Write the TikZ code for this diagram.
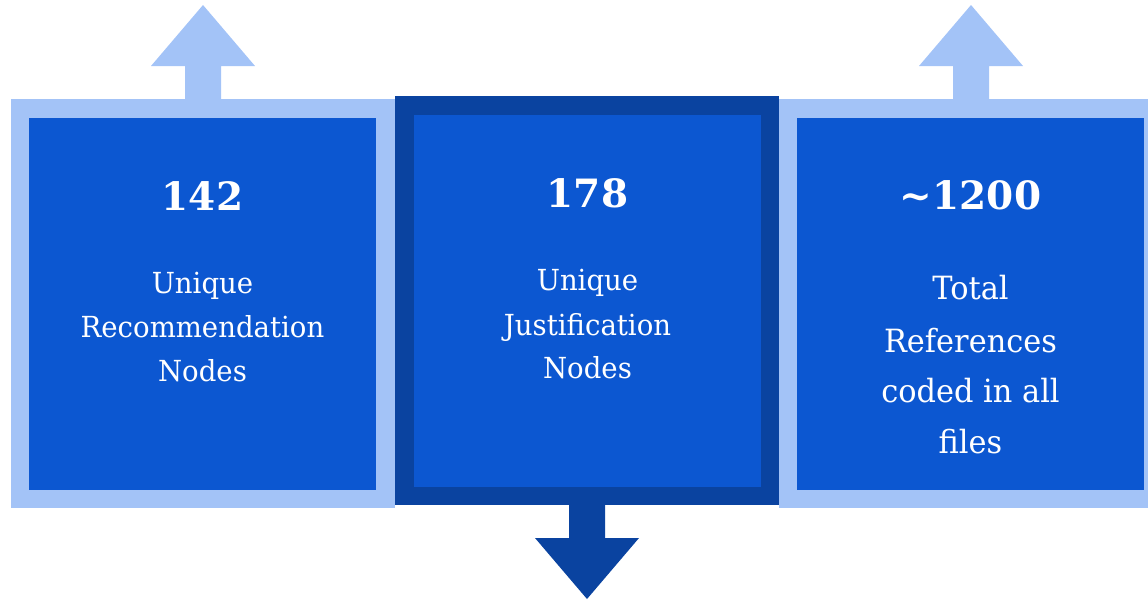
\documentclass[tikz,border=0pt]{standalone}
\usepackage{fontspec}
\setmainfont{DejaVu Serif}
\newfontfamily\bodyfont[FakeStretch=0.95]{DejaVu Serif}
\definecolor{lightb}{HTML}{A3C3F7}
\definecolor{midb}{HTML}{0C57D1}
\definecolor{navyb}{HTML}{0A43A0}
\tikzset{
  boxnode/.style={inner sep=0pt, outer sep=0pt, anchor=north west},
  numtext/.style={text=white, anchor=base, inner sep=0pt, font={\bfseries\fontsize{39}{44}\selectfont}},
  smalltext/.style={text=white, anchor=base, inner sep=0pt, font={\bodyfont\fontsize{29}{44}\selectfont}},
  bigtext/.style={text=white, anchor=base, inner sep=0pt, font={\bodyfont\fontsize{32}{52}\selectfont}},
}
\begin{document}
\begin{tikzpicture}[x=1pt,y=-1pt]
\useasboundingbox (0,0) rectangle (1148,600);
% arrows
\fill[lightb] (185,100) -- (185,66) -- (151,66) -- (203,5) -- (255,66) -- (221,66) -- (221,100) -- cycle;
\fill[lightb] (953,100) -- (953,66) -- (919,66) -- (971,5) -- (1023,66) -- (989,66) -- (989,100) -- cycle;
\fill[navyb] (569,504) -- (569,538) -- (535,538) -- (587,599) -- (639,538) -- (605,538) -- (605,504) -- cycle;
% boxes
\node[boxnode, fill=lightb, minimum width=384pt, minimum height=409pt] (Lo) at (11,99) {};
\node[boxnode, fill=midb, minimum width=347pt, minimum height=372pt] (Li) at (29,118) {};
\node[boxnode, fill=lightb, minimum width=369pt, minimum height=409pt] (Ro) at (779,99) {};
\node[boxnode, fill=midb, minimum width=347pt, minimum height=372pt] (Ri) at (797,118) {};
\node[boxnode, fill=navyb, minimum width=384pt, minimum height=409pt] (Mo) at (395,96) {};
\node[boxnode, fill=midb, minimum width=347pt, minimum height=372pt] (Mi) at (414,115) {};
% texts
\node[numtext] (l0) at (202.5,210) {142};
\node[smalltext] (l1) at (202.5,293) {Unique};
\node[smalltext] (l2) at (202.5,337) {Recommendation};
\node[smalltext] (l3) at (202.5,381) {Nodes};
\node[numtext] (m0) at (587.5,207) {178};
\node[smalltext] (m1) at (587.5,290) {Unique};
\node[smalltext] (m2) at (587.5,335) {Justification};
\node[smalltext] (m3) at (587.5,378) {Nodes};
\node[numtext] (r0) at (970.5,209) {\textasciitilde1200};
\node[bigtext] (r1) at (970.5,299) {Total};
\node[bigtext] (r2) at (970.5,352) {References};
\node[bigtext] (r3) at (970.5,402) {coded in all};
\node[bigtext] (r4) at (970.5,453) {files};
\end{tikzpicture}
\end{document}
